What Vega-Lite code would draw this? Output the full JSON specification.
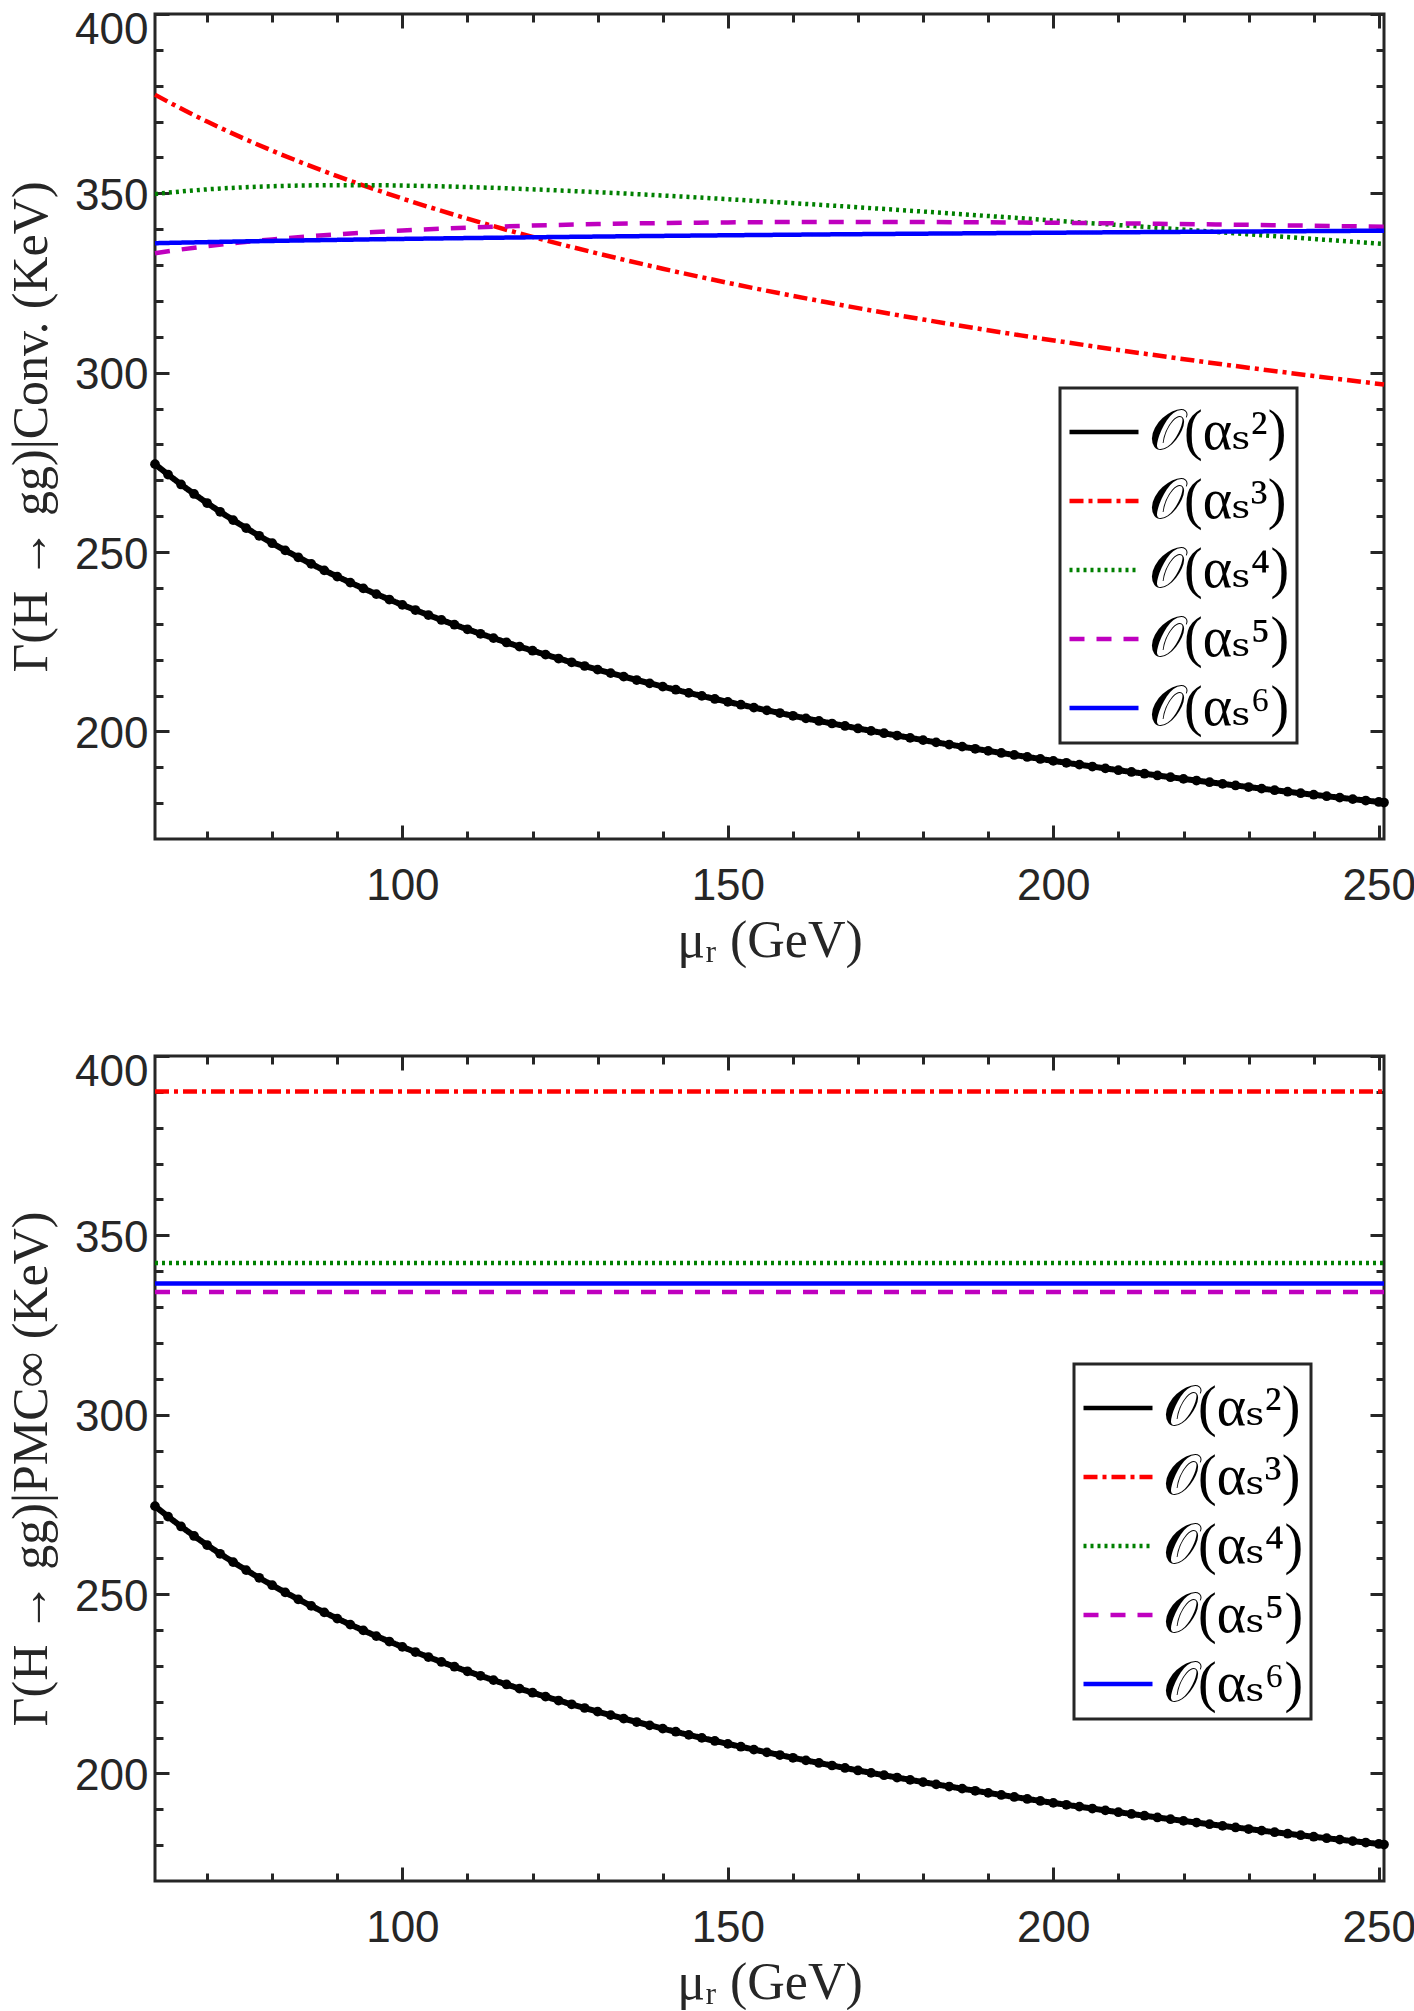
{
  "$schema": "https://vega.github.io/schema/vega-lite/v6.json",
  "padding": {"left": 5, "top": 6, "right": 0, "bottom": 0},
  "background": "white",
  "datasets": {
    "lo": [
      {"mu":62,"G":274.5},{"mu":64,"G":271.6},{"mu":66,"G":268.84},{"mu":68,"G":266.19},{"mu":70,"G":263.66},{"mu":72,"G":261.23},{"mu":74,"G":258.91},{"mu":76,"G":256.67},{"mu":78,"G":254.53},{"mu":80,"G":252.46},
      {"mu":82,"G":250.47},{"mu":84,"G":248.54},{"mu":86,"G":246.69},{"mu":88,"G":244.9},{"mu":90,"G":243.16},{"mu":92,"G":241.48},{"mu":94,"G":239.86},{"mu":96,"G":238.28},{"mu":98,"G":236.76},{"mu":100,"G":235.27},
      {"mu":102,"G":233.83},{"mu":104,"G":232.43},{"mu":106,"G":231.07},{"mu":108,"G":229.75},{"mu":110,"G":228.46},{"mu":112,"G":227.21},{"mu":114,"G":225.99},{"mu":116,"G":224.8},{"mu":118,"G":223.63},{"mu":120,"G":222.5},
      {"mu":122,"G":221.39},{"mu":124,"G":220.31},{"mu":126,"G":219.26},{"mu":128,"G":218.23},{"mu":130,"G":217.22},{"mu":132,"G":216.23},{"mu":134,"G":215.27},{"mu":136,"G":214.32},{"mu":138,"G":213.4},{"mu":140,"G":212.49},
      {"mu":142,"G":211.61},{"mu":144,"G":210.74},{"mu":146,"G":209.89},{"mu":148,"G":209.05},{"mu":150,"G":208.23},{"mu":152,"G":207.43},{"mu":154,"G":206.64},{"mu":156,"G":205.87},{"mu":158,"G":205.11},{"mu":160,"G":204.36},
      {"mu":162,"G":203.63},{"mu":164,"G":202.91},{"mu":166,"G":202.2},{"mu":168,"G":201.51},{"mu":170,"G":200.82},{"mu":172,"G":200.15},{"mu":174,"G":199.49},{"mu":176,"G":198.84},{"mu":178,"G":198.2},{"mu":180,"G":197.57},
      {"mu":182,"G":196.95},{"mu":184,"G":196.34},{"mu":186,"G":195.74},{"mu":188,"G":195.15},{"mu":190,"G":194.57},{"mu":192,"G":193.99},{"mu":194,"G":193.43},{"mu":196,"G":192.87},{"mu":198,"G":192.32},{"mu":200,"G":191.78},
      {"mu":202,"G":191.25},{"mu":204,"G":190.72},{"mu":206,"G":190.2},{"mu":208,"G":189.69},{"mu":210,"G":189.18},{"mu":212,"G":188.69},{"mu":214,"G":188.2},{"mu":216,"G":187.71},{"mu":218,"G":187.23},{"mu":220,"G":186.76},
      {"mu":222,"G":186.29},{"mu":224,"G":185.83},{"mu":226,"G":185.38},{"mu":228,"G":184.93},{"mu":230,"G":184.48},{"mu":232,"G":184.04},{"mu":234,"G":183.61},{"mu":236,"G":183.18},{"mu":238,"G":182.76},{"mu":240,"G":182.34},
      {"mu":242,"G":181.93},{"mu":244,"G":181.52},{"mu":246,"G":181.12},{"mu":248,"G":180.72},{"mu":250,"G":180.33},{"mu":250.8,"G":180.17}
    ],
    "conv": [
      {"mu":62,"G":377.5,"s":"𝒪(αₛ³)"},{"mu":66,"G":373.64,"s":"𝒪(αₛ³)"},{"mu":70,"G":370.02,"s":"𝒪(αₛ³)"},{"mu":75,"G":365.81,"s":"𝒪(αₛ³)"},{"mu":80,"G":361.89,"s":"𝒪(αₛ³)"},{"mu":85,"G":358.24,"s":"𝒪(αₛ³)"},{"mu":90,"G":354.81,"s":"𝒪(αₛ³)"},
      {"mu":95,"G":351.59,"s":"𝒪(αₛ³)"},{"mu":100,"G":348.55,"s":"𝒪(αₛ³)"},{"mu":110,"G":342.94,"s":"𝒪(αₛ³)"},{"mu":120,"G":337.87,"s":"𝒪(αₛ³)"},{"mu":130,"G":333.24,"s":"𝒪(αₛ³)"},{"mu":140,"G":328.99,"s":"𝒪(αₛ³)"},{"mu":150,"G":325.06,"s":"𝒪(αₛ³)"},
      {"mu":165,"G":319.69,"s":"𝒪(αₛ³)"},{"mu":180,"G":314.83,"s":"𝒪(αₛ³)"},{"mu":195,"G":310.4,"s":"𝒪(αₛ³)"},{"mu":210,"G":306.33,"s":"𝒪(αₛ³)"},{"mu":225,"G":302.57,"s":"𝒪(αₛ³)"},{"mu":240,"G":299.08,"s":"𝒪(αₛ³)"},{"mu":250.8,"G":296.71,"s":"𝒪(αₛ³)"},
      {"mu":62,"G":349.8,"s":"𝒪(αₛ⁴)"},{"mu":66,"G":350.53,"s":"𝒪(αₛ⁴)"},{"mu":70,"G":351.11,"s":"𝒪(αₛ⁴)"},{"mu":75,"G":351.63,"s":"𝒪(αₛ⁴)"},{"mu":80,"G":351.99,"s":"𝒪(αₛ⁴)"},{"mu":85,"G":352.2,"s":"𝒪(αₛ⁴)"},{"mu":90,"G":352.29,"s":"𝒪(αₛ⁴)"},
      {"mu":95,"G":352.27,"s":"𝒪(αₛ⁴)"},{"mu":100,"G":352.17,"s":"𝒪(αₛ⁴)"},{"mu":110,"G":351.76,"s":"𝒪(αₛ⁴)"},{"mu":120,"G":351.12,"s":"𝒪(αₛ⁴)"},{"mu":130,"G":350.32,"s":"𝒪(αₛ⁴)"},{"mu":140,"G":349.4,"s":"𝒪(αₛ⁴)"},{"mu":150,"G":348.37,"s":"𝒪(αₛ⁴)"},
      {"mu":165,"G":346.7,"s":"𝒪(αₛ⁴)"},{"mu":180,"G":344.92,"s":"𝒪(αₛ⁴)"},{"mu":195,"G":343.06,"s":"𝒪(αₛ⁴)"},{"mu":210,"G":341.16,"s":"𝒪(αₛ⁴)"},{"mu":225,"G":339.23,"s":"𝒪(αₛ⁴)"},{"mu":240,"G":337.28,"s":"𝒪(αₛ⁴)"},{"mu":250.8,"G":335.87,"s":"𝒪(αₛ⁴)"},
      {"mu":62,"G":333.3,"s":"𝒪(αₛ⁵)"},{"mu":66,"G":334.35,"s":"𝒪(αₛ⁵)"},{"mu":70,"G":335.28,"s":"𝒪(αₛ⁵)"},{"mu":75,"G":336.3,"s":"𝒪(αₛ⁵)"},{"mu":80,"G":337.17,"s":"𝒪(αₛ⁵)"},{"mu":85,"G":337.93,"s":"𝒪(αₛ⁵)"},{"mu":90,"G":338.58,"s":"𝒪(αₛ⁵)"},
      {"mu":95,"G":339.14,"s":"𝒪(αₛ⁵)"},{"mu":100,"G":339.63,"s":"𝒪(αₛ⁵)"},{"mu":110,"G":340.42,"s":"𝒪(αₛ⁵)"},{"mu":120,"G":341.01,"s":"𝒪(αₛ⁵)"},{"mu":130,"G":341.43,"s":"𝒪(αₛ⁵)"},{"mu":140,"G":341.72,"s":"𝒪(αₛ⁵)"},{"mu":150,"G":341.9,"s":"𝒪(αₛ⁵)"},
      {"mu":165,"G":342.02,"s":"𝒪(αₛ⁵)"},{"mu":180,"G":342.0,"s":"𝒪(αₛ⁵)"},{"mu":195,"G":341.86,"s":"𝒪(αₛ⁵)"},{"mu":210,"G":341.63,"s":"𝒪(αₛ⁵)"},{"mu":225,"G":341.33,"s":"𝒪(αₛ⁵)"},{"mu":240,"G":340.97,"s":"𝒪(αₛ⁵)"},{"mu":250.8,"G":340.69,"s":"𝒪(αₛ⁵)"},
      {"mu":62,"G":336.1,"s":"𝒪(αₛ⁶)"},{"mu":66,"G":336.26,"s":"𝒪(αₛ⁶)"},{"mu":70,"G":336.4,"s":"𝒪(αₛ⁶)"},{"mu":75,"G":336.58,"s":"𝒪(αₛ⁶)"},{"mu":80,"G":336.74,"s":"𝒪(αₛ⁶)"},{"mu":85,"G":336.89,"s":"𝒪(αₛ⁶)"},{"mu":90,"G":337.03,"s":"𝒪(αₛ⁶)"},
      {"mu":95,"G":337.17,"s":"𝒪(αₛ⁶)"},{"mu":100,"G":337.3,"s":"𝒪(αₛ⁶)"},{"mu":110,"G":337.53,"s":"𝒪(αₛ⁶)"},{"mu":120,"G":337.75,"s":"𝒪(αₛ⁶)"},{"mu":130,"G":337.95,"s":"𝒪(αₛ⁶)"},{"mu":140,"G":338.14,"s":"𝒪(αₛ⁶)"},{"mu":150,"G":338.31,"s":"𝒪(αₛ⁶)"},
      {"mu":165,"G":338.55,"s":"𝒪(αₛ⁶)"},{"mu":180,"G":338.76,"s":"𝒪(αₛ⁶)"},{"mu":195,"G":338.96,"s":"𝒪(αₛ⁶)"},{"mu":210,"G":339.15,"s":"𝒪(αₛ⁶)"},{"mu":225,"G":339.32,"s":"𝒪(αₛ⁶)"},{"mu":240,"G":339.48,"s":"𝒪(αₛ⁶)"},{"mu":250.8,"G":339.59,"s":"𝒪(αₛ⁶)"}
    ],
    "pmc": [
      {"mu":62,"G":390.1,"s":"𝒪(αₛ³)"},{"mu":250.8,"G":390.1,"s":"𝒪(αₛ³)"},
      {"mu":62,"G":342.3,"s":"𝒪(αₛ⁴)"},{"mu":250.8,"G":342.3,"s":"𝒪(αₛ⁴)"},
      {"mu":62,"G":334.2,"s":"𝒪(αₛ⁵)"},{"mu":250.8,"G":334.2,"s":"𝒪(αₛ⁵)"},
      {"mu":62,"G":336.6,"s":"𝒪(αₛ⁶)"},{"mu":250.8,"G":336.6,"s":"𝒪(αₛ⁶)"}
    ]
  },
  "vconcat": [
    {
      "width": 1229,
      "height": 825,
      "layer": [
        {
          "data": {"name": "lo"},
          "mark": {"type": "line", "strokeWidth": 6, "point": {"filled": true, "size": 95}},
          "encoding": {
            "x": {"field": "mu", "type": "quantitative", "scale": {"domain": [62, 250.8], "nice": false, "zero": false},
              "axis": {"orient": "bottom", "values": [70,80,90,100,110,120,130,140,150,160,170,180,190,200,210,220,230,240,250],
                "labelExpr": "datum.value % 50 === 0 ? datum.label : ''",
                "tickSize": {"condition": {"test": "datum.value % 50 === 0", "value": -14}, "value": -8},
                "labelPadding": 39, "labelFlush": false, "labelOverlap": false, "title": "μᵣ (GeV)", "titleFontSize": 52, "titlePadding": 1}},
            "y": {"field": "G", "type": "quantitative", "scale": {"domain": [170, 400], "nice": false, "zero": false},
              "axis": {"orient": "left", "values": [180,190,200,210,220,230,240,250,260,270,280,290,300,310,320,330,340,350,360,370,380,390,400],
                "labelExpr": "datum.value % 50 === 0 ? datum.label : ''",
                "tickSize": {"condition": {"test": "datum.value % 50 === 0", "value": -14}, "value": -8},
                "labelPadding": 21, "labelOffset": {"condition": {"test": "datum.value === 400", "value": 16}, "value": 3},
                "labelOverlap": false, "labelFlush": false, "title": "Γ(H → gg)|Conv. (KeV)", "titlePadding": 18}},
            "color": {"datum": "𝒪(αₛ²)", "type": "nominal", "title": null,
              "scale": {"domain": ["𝒪(αₛ²)","𝒪(αₛ³)","𝒪(αₛ⁴)","𝒪(αₛ⁵)","𝒪(αₛ⁶)"], "range": ["#000000","#ff0000","#008000","#bf00bf","#0000ff"]},
              "legend": {"orient": "none", "legendX": 905, "legendY": 374}},
            "strokeDash": {"datum": "𝒪(αₛ²)", "type": "nominal", "title": null,
              "scale": {"domain": ["𝒪(αₛ²)","𝒪(αₛ³)","𝒪(αₛ⁴)","𝒪(αₛ⁵)","𝒪(αₛ⁶)"], "range": [[1,0],[14,5,4,5],[3,4],[15,12],[1,0]]},
              "legend": {"orient": "none", "legendX": 905, "legendY": 374}}
          }
        },
        {
          "data": {"name": "conv"},
          "mark": {"type": "line", "strokeWidth": 4.5, "interpolate": "monotone"},
          "encoding": {
            "x": {"field": "mu", "type": "quantitative", "axis": null},
            "y": {"field": "G", "type": "quantitative", "axis": null},
            "color": {"field": "s", "type": "nominal", "title": null,
              "scale": {"domain": ["𝒪(αₛ²)","𝒪(αₛ³)","𝒪(αₛ⁴)","𝒪(αₛ⁵)","𝒪(αₛ⁶)"], "range": ["#000000","#ff0000","#008000","#bf00bf","#0000ff"]},
              "legend": {"orient": "none", "legendX": 905, "legendY": 374}},
            "strokeDash": {"field": "s", "type": "nominal", "title": null,
              "scale": {"domain": ["𝒪(αₛ²)","𝒪(αₛ³)","𝒪(αₛ⁴)","𝒪(αₛ⁵)","𝒪(αₛ⁶)"], "range": [[1,0],[14,5,4,5],[3,4],[15,12],[1,0]]},
              "legend": {"orient": "none", "legendX": 905, "legendY": 374}}
          }
        },
        {
          "data": {"name": "lo"},
          "mark": {"type": "point", "opacity": 0},
          "encoding": {
            "x": {"field": "mu", "type": "quantitative",
              "axis": {"orient": "top", "values": [70,80,90,100,110,120,130,140,150,160,170,180,190,200,210,220,230,240,250], "labels": false, "title": null,
                "tickSize": {"condition": {"test": "datum.value % 50 === 0", "value": -14}, "value": -8}}},
            "y": {"field": "G", "type": "quantitative",
              "axis": {"orient": "right", "values": [180,190,200,210,220,230,240,250,260,270,280,290,300,310,320,330,340,350,360,370,380,390,400], "labels": false, "title": null,
                "tickSize": {"condition": {"test": "datum.value % 50 === 0", "value": -14}, "value": -8}}}
          }
        }
      ],
      "resolve": {"axis": {"x": "independent", "y": "independent"}}
    },
    {
      "width": 1229,
      "height": 825,
      "layer": [
        {
          "data": {"name": "lo"},
          "mark": {"type": "line", "strokeWidth": 6, "point": {"filled": true, "size": 95}},
          "encoding": {
            "x": {"field": "mu", "type": "quantitative", "scale": {"domain": [62, 250.8], "nice": false, "zero": false},
              "axis": {"orient": "bottom", "values": [70,80,90,100,110,120,130,140,150,160,170,180,190,200,210,220,230,240,250],
                "labelExpr": "datum.value % 50 === 0 ? datum.label : ''",
                "tickSize": {"condition": {"test": "datum.value % 50 === 0", "value": -14}, "value": -8},
                "labelPadding": 39, "labelFlush": false, "labelOverlap": false, "title": "μᵣ (GeV)", "titleFontSize": 52, "titlePadding": 1}},
            "y": {"field": "G", "type": "quantitative", "scale": {"domain": [170, 400], "nice": false, "zero": false},
              "axis": {"orient": "left", "values": [180,190,200,210,220,230,240,250,260,270,280,290,300,310,320,330,340,350,360,370,380,390,400],
                "labelExpr": "datum.value % 50 === 0 ? datum.label : ''",
                "tickSize": {"condition": {"test": "datum.value % 50 === 0", "value": -14}, "value": -8},
                "labelPadding": 21, "labelOffset": {"condition": {"test": "datum.value === 400", "value": 16}, "value": 3},
                "labelOverlap": false, "labelFlush": false, "title": "Γ(H → gg)|PMC∞ (KeV)", "titlePadding": 18}},
            "color": {"datum": "𝒪(αₛ²)", "type": "nominal", "title": null,
              "scale": {"domain": ["𝒪(αₛ²)","𝒪(αₛ³)","𝒪(αₛ⁴)","𝒪(αₛ⁵)","𝒪(αₛ⁶)"], "range": ["#000000","#ff0000","#008000","#bf00bf","#0000ff"]},
              "legend": {"orient": "none", "legendX": 919, "legendY": 308}},
            "strokeDash": {"datum": "𝒪(αₛ²)", "type": "nominal", "title": null,
              "scale": {"domain": ["𝒪(αₛ²)","𝒪(αₛ³)","𝒪(αₛ⁴)","𝒪(αₛ⁵)","𝒪(αₛ⁶)"], "range": [[1,0],[14,5,4,5],[3,4],[15,12],[1,0]]},
              "legend": {"orient": "none", "legendX": 919, "legendY": 308}}
          }
        },
        {
          "data": {"name": "pmc"},
          "mark": {"type": "line", "strokeWidth": 4.5},
          "encoding": {
            "x": {"field": "mu", "type": "quantitative", "axis": null},
            "y": {"field": "G", "type": "quantitative", "axis": null},
            "color": {"field": "s", "type": "nominal", "title": null,
              "scale": {"domain": ["𝒪(αₛ²)","𝒪(αₛ³)","𝒪(αₛ⁴)","𝒪(αₛ⁵)","𝒪(αₛ⁶)"], "range": ["#000000","#ff0000","#008000","#bf00bf","#0000ff"]},
              "legend": {"orient": "none", "legendX": 919, "legendY": 308}},
            "strokeDash": {"field": "s", "type": "nominal", "title": null,
              "scale": {"domain": ["𝒪(αₛ²)","𝒪(αₛ³)","𝒪(αₛ⁴)","𝒪(αₛ⁵)","𝒪(αₛ⁶)"], "range": [[1,0],[14,5,4,5],[3,4],[15,12],[1,0]]},
              "legend": {"orient": "none", "legendX": 919, "legendY": 308}}
          }
        },
        {
          "data": {"name": "lo"},
          "mark": {"type": "point", "opacity": 0},
          "encoding": {
            "x": {"field": "mu", "type": "quantitative",
              "axis": {"orient": "top", "values": [70,80,90,100,110,120,130,140,150,160,170,180,190,200,210,220,230,240,250], "labels": false, "title": null,
                "tickSize": {"condition": {"test": "datum.value % 50 === 0", "value": -14}, "value": -8}}},
            "y": {"field": "G", "type": "quantitative",
              "axis": {"orient": "right", "values": [180,190,200,210,220,230,240,250,260,270,280,290,300,310,320,330,340,350,360,370,380,390,400], "labels": false, "title": null,
                "tickSize": {"condition": {"test": "datum.value % 50 === 0", "value": -14}, "value": -8}}}
          }
        }
      ],
      "resolve": {"axis": {"x": "independent", "y": "independent"}}
    }
  ],
  "spacing": 80,
  "resolve": {"scale": {"color": "independent", "strokeDash": "independent"}, "legend": {"color": "independent", "strokeDash": "independent"}},
  "config": {
    "view": {"stroke": "#262626", "strokeWidth": 3},
    "axis": {"domain": false, "grid": false, "tickColor": "#262626", "tickWidth": 3,
      "labelFont": "Liberation Sans", "labelFontSize": 44, "labelColor": "#262626",
      "titleFont": "Liberation Serif, DejaVu Serif", "titleFontSize": 50, "titleFontWeight": "normal", "titleColor": "#262626"},
    "legend": {"symbolType": "stroke", "symbolSize": 4761, "symbolStrokeWidth": 4.5,
      "labelFont": "Liberation Serif, DejaVu Serif", "labelFontSize": 56, "labelColor": "black", "labelOffset": 8, "labelLimit": 400,
      "strokeColor": "#262626", "strokeWidth": 3, "fillColor": "white", "padding": 7, "rowPadding": 4}
  }
}
